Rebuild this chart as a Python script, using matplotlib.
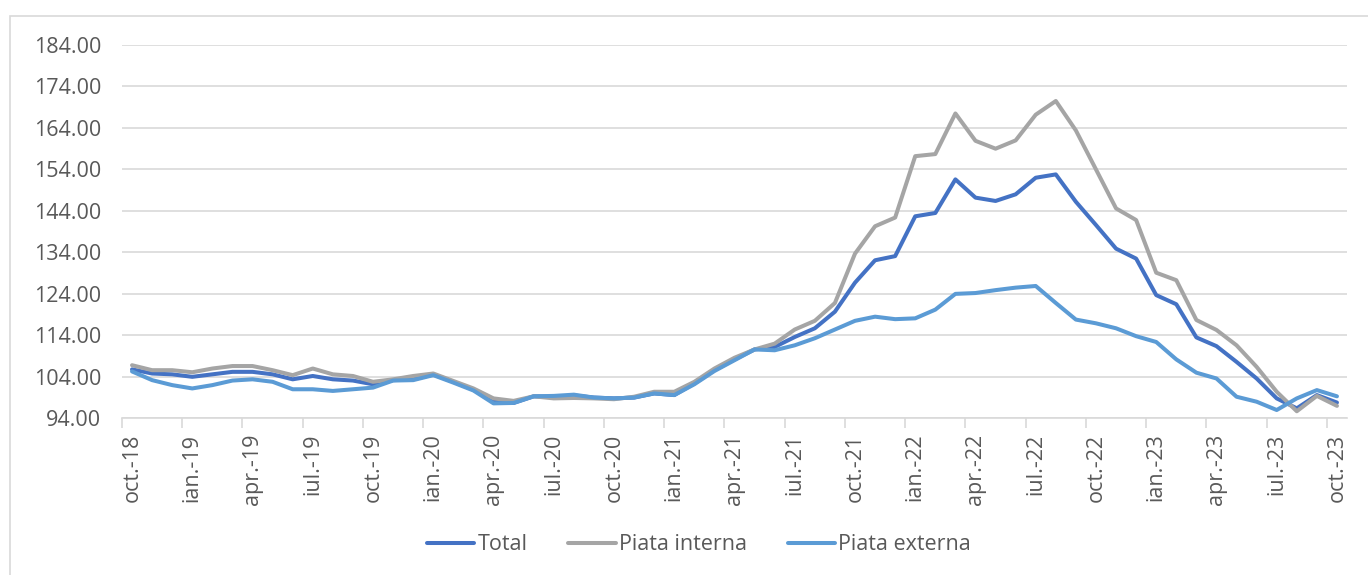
import matplotlib
matplotlib.use("Agg")
import matplotlib.pyplot as plt
import numpy as np
from matplotlib.patches import Rectangle

months = ["oct.-18","nov.-18","dec.-18",
          "ian.-19","feb.-19","mar.-19","apr.-19","mai.-19","iun.-19","iul.-19","aug.-19","sep.-19","oct.-19","nov.-19","dec.-19",
          "ian.-20","feb.-20","mar.-20","apr.-20","mai.-20","iun.-20","iul.-20","aug.-20","sep.-20","oct.-20","nov.-20","dec.-20",
          "ian.-21","feb.-21","mar.-21","apr.-21","mai.-21","iun.-21","iul.-21","aug.-21","sep.-21","oct.-21","nov.-21","dec.-21",
          "ian.-22","feb.-22","mar.-22","apr.-22","mai.-22","iun.-22","iul.-22","aug.-22","sep.-22","oct.-22","nov.-22","dec.-22",
          "ian.-23","feb.-23","mar.-23","apr.-23","mai.-23","iun.-23","iul.-23","aug.-23","sep.-23","oct.-23"]

total = [105.8,104.8,104.6,104.0,104.6,105.2,105.2,104.6,103.4,104.2,103.4,103.1,102.2,103.2,103.4,
         104.6,102.8,100.9,98.0,97.7,99.3,99.2,99.5,99.0,98.8,99.0,100.0,
         99.6,102.4,105.6,108.2,110.6,111.2,113.6,115.7,119.7,126.7,132.1,133.1,
         142.7,143.5,151.6,147.2,146.4,148.0,152.0,152.8,146.2,140.6,134.9,132.5,
         123.7,121.5,113.5,111.4,107.6,103.6,98.8,96.4,99.6,97.8]

interna = [106.8,105.6,105.6,105.1,106.0,106.6,106.6,105.6,104.4,106.0,104.6,104.2,102.8,103.4,104.2,
           104.8,103.0,101.2,98.8,98.2,99.3,98.8,98.9,98.8,98.6,99.2,100.4,
           100.4,102.8,106.0,108.6,110.6,112.0,115.4,117.5,121.8,133.7,140.3,142.4,
           157.2,157.7,167.5,160.9,159.0,161.0,167.2,170.5,163.4,154.0,144.6,141.8,
           129.1,127.3,117.7,115.3,111.6,106.4,100.4,95.7,99.4,97.0]

externa = [105.3,103.2,102.0,101.2,102.0,103.1,103.4,102.8,101.0,101.0,100.6,101.0,101.4,103.1,103.2,
           104.4,102.6,100.7,97.6,97.7,99.3,99.4,99.7,99.0,98.8,99.0,100.0,
           99.6,102.2,105.4,108.0,110.6,110.4,111.6,113.3,115.4,117.5,118.5,117.9,
           118.1,120.2,124.0,124.2,124.9,125.5,125.9,121.8,117.8,116.9,115.7,113.8,
           112.4,108.2,105.0,103.6,99.2,98.0,96.0,98.8,100.8,99.3]

series_names = ["Total", "Piata interna", "Piata externa"]
colors = ["#4472C4", "#A5A5A5", "#5B9BD5"]
yticks = np.arange(94, 185, 10)

plt.rcParams['font.family'] = ['Open Sans', 'DejaVu Sans']
txt = "#595959"
fs = 15.5

fig = plt.figure(figsize=(13.68, 5.75), dpi=100)
fig.patches.append(Rectangle((10/1368, -0.1), 1.2, 1 - 16/575 + 0.1, transform=fig.transFigure,
                             fill=False, edgecolor="#D9D9D9", linewidth=1.2, zorder=0))
ax = fig.add_axes([122/1368, 1 - 418.3/575, (1347 - 122)/1368, (418.3 - 45)/575])

x = np.arange(len(months))
for data, name, c in zip([total, interna, externa], series_names, colors):
    ax.plot(x, data, color=c, lw=2.9, label=name, solid_joinstyle='round', solid_capstyle='round')

ax.set_xlim(-0.5, len(months) - 0.5)
ax.set_ylim(94, 184)
ax.set_yticks(yticks)
ax.set_yticklabels([f"{v:.2f}" for v in yticks], fontsize=fs, color=txt)
ax.tick_params(axis='y', length=0, pad=15)
ax.grid(axis='y', color="#D9D9D9", lw=1.2)
ax.set_axisbelow(True)

lab_idx = np.arange(0, len(months), 3)
ax.set_xticks(lab_idx)
ax.set_xticklabels([months[i] for i in lab_idx], rotation=90, fontsize=fs, color=txt)
ax.tick_params(axis='x', which='major', length=0, pad=11)
ax.set_xticks(np.arange(-0.5, len(months), 3), minor=True)
ax.tick_params(axis='x', which='minor', length=7, width=1.2, color="#D9D9D9")

for s in ['left', 'right', 'top']:
    ax.spines[s].set_visible(False)
ax.spines['bottom'].set_color("#D9D9D9")
ax.spines['bottom'].set_linewidth(1.2)

leg = fig.legend(loc='center', bbox_to_anchor=(699/1368, 1 - 545/575), ncol=3, frameon=False,
                 fontsize=fs, handlelength=2.2, handletextpad=0.15, columnspacing=1.9)
for t in leg.get_texts():
    t.set_color(txt)

fig.savefig("out.png", dpi=100)
